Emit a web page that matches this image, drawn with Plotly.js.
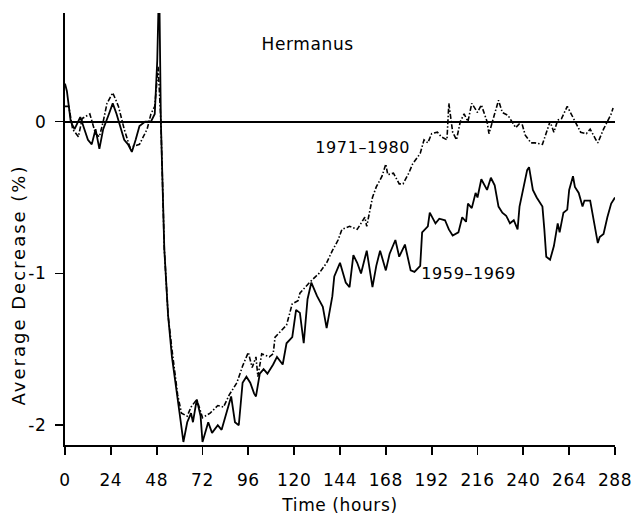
<!DOCTYPE html>
<html>
<head>
<meta charset="utf-8">
<script src="https://cdn.plot.ly/plotly-3.0.1.min.js"></script>
<style>
  html, body { margin: 0; padding: 0; background: #fff; }
  #chart { width: 638px; height: 515px; }
  g.annotation[data-index="0"] text { letter-spacing: 2px; }
  g.annotation text, .xtick text, .ytick text, .xtitle { letter-spacing: 0.6px; }
</style>
</head>
<body>
<div id="chart"></div>
<script>
// ---- Data ----
const xTickVals = [0, 24, 48, 72, 96, 120, 144, 168, 192, 216, 240, 264, 288];
const yTickVals = [-2, -1, 0];
const yTickText = ['-2', '-1', '0'];

// 1959-1969 (solid line)
const hours5969 = [0, 1, 3, 5, 8, 10, 12, 14, 16, 18, 20, 23, 25, 27, 29, 31, 33, 35, 37, 39, 42, 45, 47, 48.3, 49.3, 50.2,
  52, 54, 56, 58, 60, 62, 64, 66, 67, 69, 71, 72, 75, 77, 80, 82, 84, 85, 87, 89, 91, 93, 95, 97, 99, 100,
  102, 104, 106, 109, 111, 114, 116, 119, 121, 123, 125, 127, 129, 132, 135, 137, 140, 141, 144, 147, 149,
  151, 153, 155, 158, 161, 163, 165, 168, 170, 173, 175, 178, 181, 183, 186, 187, 190, 191, 194, 196, 199,
  201, 203, 206, 208, 210, 211, 213, 215, 216, 218, 221, 223, 225, 227, 229, 231, 233, 235, 237, 238, 240,
  242, 243, 245, 247, 250, 251, 252, 254, 256, 258, 259, 261, 263, 264, 266, 267, 269, 271, 272, 275, 277,
  279, 280, 282, 284, 286, 288];
const values5969 = [0.25, 0.2, 0.0, -0.05, 0.03, -0.05, -0.12, -0.15, -0.05, -0.18, -0.05, 0.05, 0.12, 0.05, -0.03, -0.12, -0.15, -0.2, -0.12, -0.03, 0.0, 0.0, 0.05, 0.4, 0.95, 0.0,
  -0.84, -1.28, -1.55, -1.72, -1.92, -2.11, -1.98, -1.92, -1.98, -1.83, -1.94, -2.11, -1.98, -2.05, -2.0, -2.03, -1.94, -1.9, -1.81, -1.98, -2.0, -1.72, -1.68, -1.72, -1.79, -1.81,
  -1.66, -1.63, -1.66, -1.6, -1.55, -1.6, -1.46, -1.42, -1.24, -1.26, -1.46, -1.17, -1.06, -1.15, -1.22, -1.36, -1.15, -1.02, -0.93, -1.06, -1.09,
  -0.88, -0.93, -1.0, -0.85, -1.09, -0.95, -0.85, -0.98, -0.87, -0.78, -0.89, -0.81, -0.98, -0.99, -0.95, -0.73, -0.69, -0.6, -0.67, -0.64, -0.65,
  -0.71, -0.75, -0.73, -0.63, -0.66, -0.54, -0.57, -0.47, -0.5, -0.38, -0.45, -0.37, -0.42, -0.56, -0.6, -0.62, -0.67, -0.65, -0.71, -0.56, -0.43,
  -0.32, -0.3, -0.45, -0.5, -0.56, -0.71, -0.89, -0.91, -0.82, -0.67, -0.73, -0.6, -0.58, -0.45, -0.36, -0.43, -0.47, -0.56, -0.52, -0.52, -0.67,
  -0.8, -0.76, -0.74, -0.63, -0.54, -0.5];

// 1971-1980 (dash-dot line)
const hours7180 = [0, 2, 4, 7, 9, 13, 16, 18, 20, 22, 25, 28, 31, 34, 39, 43, 45, 47, 48.8, 50.2,
  52, 54, 56, 58, 59, 61, 64, 66, 69, 72, 76, 80, 83, 86, 90, 93, 96, 98, 100, 101, 103, 107, 109, 110,
  113, 116, 119, 122, 123, 128, 133, 137, 140, 143, 145, 149, 153, 157, 158, 161, 163, 166, 168, 169, 172,
  175, 177, 180, 182, 186, 188, 190, 192, 195, 197, 200, 201, 203, 205, 207, 209, 211, 213, 214, 216, 218,
  221, 222, 225, 227, 229, 232, 236, 239, 241, 244, 246, 250, 254, 256, 258, 260, 263, 265, 267, 270, 273,
  275, 278, 279, 282, 284, 286, 287];
const values7180 = [0.1, 0.1, -0.05, -0.1, 0.02, 0.05, -0.08, -0.1, 0.0, 0.12, 0.19, 0.1, -0.05, -0.17, -0.15, -0.05, 0.05, 0.1, 0.36, 0.0,
  -0.84, -1.28, -1.5, -1.68, -1.8, -1.92, -1.94, -1.88, -1.83, -1.95, -1.92, -1.87, -1.88, -1.8, -1.72, -1.61, -1.52, -1.62, -1.55, -1.68, -1.53, -1.55, -1.53, -1.42,
  -1.38, -1.34, -1.2, -1.18, -1.13, -1.06, -1.0, -0.93, -0.85, -0.78, -0.71, -0.69, -0.71, -0.63, -0.69, -0.5, -0.43, -0.36, -0.28, -0.35, -0.34,
  -0.41, -0.41, -0.34, -0.28, -0.21, -0.12, -0.14, -0.08, -0.07, -0.1, -0.12, 0.12, -0.07, -0.12, 0.0, 0.05, 0.0, 0.12, 0.1, 0.06, 0.11,
  0.0, -0.08, 0.06, 0.14, 0.06, 0.04, -0.04, 0.0, -0.09, -0.14, -0.14, -0.15, 0.0, -0.07, 0.01, 0.02, 0.1, 0.05, 0.0, -0.07, -0.08,
  -0.05, -0.12, -0.14, -0.05, 0.0, 0.05, 0.09];

const stationName = 'Hermanus';
const label5969 = '1959–1969';
const label7180 = '1971–1980';
const xTitle = 'Time (hours)';
const yTitle = 'Average Decrease (%)';

// ---- Plot ----
const FONT = 'DejaVu Sans, Liberation Sans, sans-serif';

const traces = [
  {
    x: hours7180, y: values7180, type: 'scatter', mode: 'lines',
    line: { color: '#000', width: 1.6, dash: '5px,2px,1.5px,2px' },
    name: label7180, hoverinfo: 'skip'
  },
  {
    x: hours5969, y: values5969, type: 'scatter', mode: 'lines',
    line: { color: '#000', width: 1.8 },
    name: label5969, hoverinfo: 'skip'
  }
];

const layout = {
  width: 638, height: 515,
  margin: { l: 65, r: 23, t: 13, b: 70, pad: 0 },
  paper_bgcolor: '#fff', plot_bgcolor: '#fff',
  showlegend: false,
  font: { family: FONT, color: '#000', size: 17 },
  xaxis: {
    range: [0, 288],
    tickmode: 'array', tickvals: xTickVals,
    ticks: 'outside', ticklen: 8, tickwidth: 1.8, tickcolor: '#000',
    showline: true, linecolor: '#000', linewidth: 2.2,
    showgrid: false, zeroline: false,
    tickfont: { family: FONT, size: 17, color: '#000' },
    ticklabelstandoff: 10,
    title: { text: xTitle, font: { family: FONT, size: 17, color: '#000' }, standoff: 12 }
  },
  yaxis: {
    range: [-2.13, 0.715],
    tickmode: 'array', tickvals: yTickVals, ticktext: yTickText,
    ticks: 'outside', ticklen: 8, tickwidth: 1.8, tickcolor: '#000',
    showline: true, linecolor: '#000', linewidth: 2.2,
    showgrid: false,
    zeroline: true, zerolinecolor: '#000', zerolinewidth: 2,
    tickfont: { family: FONT, size: 17, color: '#000' },
    ticklabelstandoff: 5
  },
  annotations: [
    {
      text: yTitle, textangle: -90, xref: 'paper', yref: 'paper',
      x: -0.085, y: 0.37, xanchor: 'center', yanchor: 'middle', showarrow: false,
      font: { family: FONT, size: 18, color: '#000' }
    },
    {
      text: stationName, xref: 'x', yref: 'y', x: 127, y: 0.51,
      xanchor: 'center', yanchor: 'middle', showarrow: false,
      font: { family: FONT, size: 17, color: '#000' }
    },
    {
      text: label7180, xref: 'x', yref: 'y', x: 156, y: -0.17,
      xanchor: 'center', yanchor: 'middle', showarrow: false,
      font: { family: FONT, size: 16, color: '#000' }
    },
    {
      text: label5969, xref: 'x', yref: 'y', x: 211.5, y: -1.0,
      xanchor: 'center', yanchor: 'middle', showarrow: false,
      font: { family: FONT, size: 16, color: '#000' }
    }
  ]
};

Plotly.newPlot('chart', traces, layout, { staticPlot: true, displayModeBar: false });
</script>
</body>
</html>
